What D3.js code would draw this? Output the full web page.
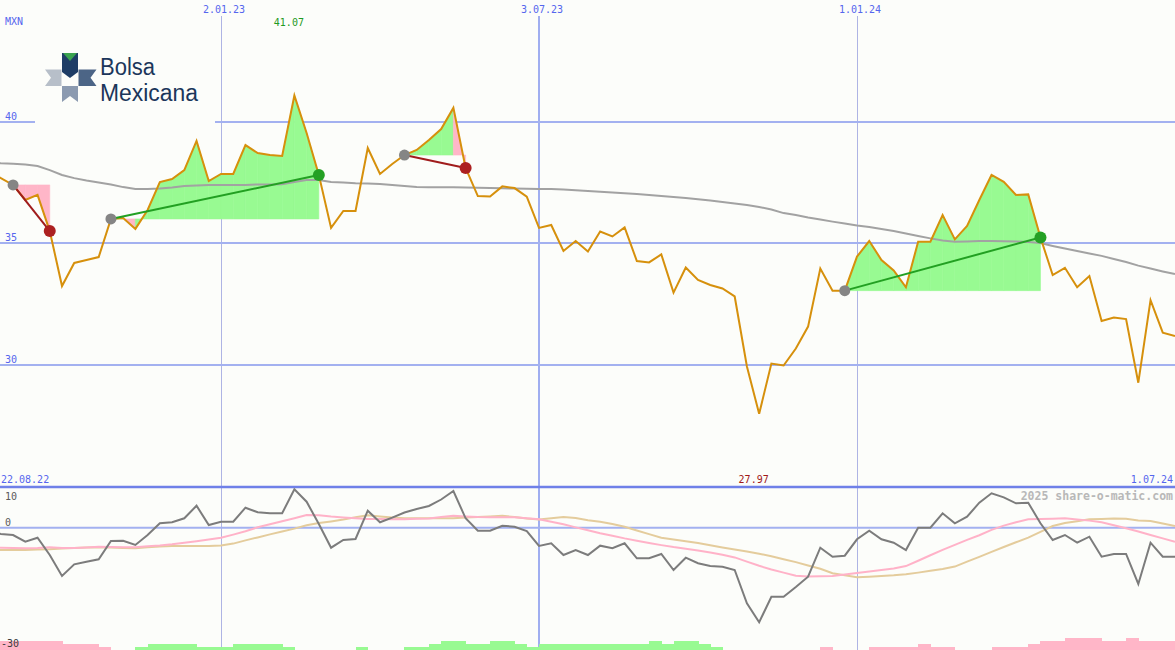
<!DOCTYPE html>
<html><head><meta charset="utf-8">
<script src="https://cdn.jsdelivr.net/npm/d3@7"></script>
<style>html,body{margin:0;padding:0;background:#fcfdfa;}svg{display:block}</style>
</head><body><svg id="c" width="1175" height="650"></svg>
<script>
// ---- data (weekly, from 22.08.22) ----
const startDate = "2022-08-22";
const price = [37.92,37.67,37.39,36.77,36.98,35.49,33.23,34.18,34.30,34.42,
 35.99,36.03,35.58,36.36,37.51,37.63,38.00,39.20,37.55,37.84,
 37.84,39.03,38.70,38.62,38.58,41.07,39.53,37.80,35.62,36.32,
 36.32,38.91,37.84,38.25,38.62,38.83,39.24,39.69,40.56,38.09,
 36.93,36.91,37.33,37.26,36.91,35.62,35.74,34.67,35.08,34.65,
 35.47,35.27,35.64,34.26,34.20,34.53,32.96,33.99,33.48,33.27,
 33.13,32.80,29.92,27.97,30.04,29.96,30.66,31.56,33.95,33.04,
 33.04,34.44,35.08,34.30,33.87,33.18,35.05,35.05,36.15,35.15,
 35.70,36.77,37.80,37.52,36.98,37.00,35.23,33.68,33.98,33.18,
 33.64,31.79,31.93,31.87,29.25,32.65,31.31,31.17];
const movingAvg = [38.33,38.28,38.26,38.23,38.17,38.00,37.80,37.67,37.57,37.49,
 37.41,37.30,37.22,37.22,37.24,37.28,37.35,37.37,37.39,37.39,
 37.39,37.39,37.41,37.41,37.42,37.51,37.59,37.59,37.51,37.49,
 37.46,37.45,37.43,37.39,37.35,37.30,37.29,37.29,37.29,37.28,
 37.27,37.26,37.25,37.24,37.23,37.22,37.22,37.20,37.17,37.14,
 37.11,37.08,37.05,37.02,36.98,36.93,36.89,36.85,36.80,36.75,
 36.69,36.63,36.56,36.48,36.38,36.23,36.15,36.05,35.97,35.88,
 35.80,35.72,35.66,35.58,35.49,35.39,35.29,35.19,35.10,35.05,
 35.06,35.08,35.08,35.07,35.06,35.04,35.00,34.88,34.77,34.67,
 34.57,34.47,34.34,34.22,34.07,33.95,33.83,33.72];
const oscMain = [-1.04,-1.53,-1.78,-3.42,-2.44,-6.69,-11.84,-8.97,-8.33,-7.74,
 -3.25,-3.18,-4.23,-1.78,1.09,1.34,2.32,5.41,0.67,1.48,
 1.48,4.92,3.79,3.55,3.55,9.44,6.39,0.92,-4.90,-3.01,
 -2.76,4.18,1.34,2.47,3.74,4.60,5.34,6.93,9.02,2.32,
 -0.72,-0.72,0.50,0.26,-0.80,-4.48,-3.82,-6.69,-5.46,-6.69,
 -4.40,-5.04,-3.82,-7.50,-7.50,-6.44,-10.37,-7.35,-8.72,-9.39,
 -9.56,-10.37,-18.54,-23.20,-16.92,-16.92,-14.54,-12.01,-4.90,-7.10,
 -6.86,-2.83,-0.72,-2.83,-3.67,-5.46,0.01,0.01,3.55,1.09,
 2.71,6.15,8.45,7.47,6.00,6.15,1.09,-3.01,-1.78,-3.67,
 -2.20,-7.10,-6.44,-6.44,-13.80,-3.67,-7.10,-7.10];
const oscFast = [-4.85,-4.90,-4.97,-5.02,-4.97,-4.80,-4.97,-4.97,-4.82,-4.65,
 -4.72,-4.77,-4.77,-4.55,-4.36,-4.06,-3.67,-3.30,-2.91,-2.47,
 -1.68,-0.85,0.11,0.85,1.58,2.32,3.13,3.08,2.76,2.54,
 2.32,2.15,2.12,2.10,2.10,2.20,2.27,2.64,2.93,2.76,
 2.61,2.56,2.56,2.56,2.34,2.10,1.48,0.85,0.09,-0.63,
 -1.36,-1.95,-2.61,-3.18,-3.72,-4.26,-4.75,-5.17,-5.56,-6.07,
 -6.64,-7.28,-8.31,-9.34,-10.25,-11.01,-11.77,-11.99,-11.91,-11.84,
 -11.47,-11.10,-10.71,-10.37,-9.98,-9.41,-8.09,-6.74,-5.44,-4.21,
 -2.98,-1.83,-0.53,0.53,1.36,2.07,2.15,2.22,2.32,2.05,
 1.75,1.36,0.63,-0.13,-0.90,-1.78,-2.61,-3.42];
const oscSlow = [-5.46,-5.46,-5.46,-5.46,-5.34,-5.26,-5.09,-4.99,-4.87,-4.80,
 -4.87,-4.94,-5.04,-4.80,-4.60,-4.48,-4.48,-4.48,-4.48,-4.38,
 -3.89,-3.10,-2.37,-1.63,-0.92,-0.21,0.60,1.14,1.56,2.02,
 2.59,3.06,2.76,2.49,2.32,2.32,2.32,2.32,2.32,2.49,
 2.64,2.79,2.93,2.61,2.27,2.00,2.32,2.66,2.37,1.85,
 1.48,0.90,0.23,-0.67,-1.56,-2.44,-2.86,-3.30,-3.74,-4.28,
 -4.85,-5.36,-5.85,-6.37,-6.98,-7.72,-8.43,-9.26,-10.07,-11.15,
 -11.67,-12.16,-12.01,-11.84,-11.67,-11.42,-11.01,-10.56,-10.12,-9.53,
 -8.33,-7.13,-5.93,-4.72,-3.55,-2.44,-1.02,0.43,1.14,1.61,
 2.07,2.15,2.25,2.20,1.78,1.66,1.02,0.43];
const signalBars = [-3,-3,-3,-3,-3,-3,-2,-2,-2,-1,0,0,1,2,2,2,2,1,1,1,
 2,2,2,2,1,0,0,0,0,0,1,0,0,0,1,1,2,3,3,2,
 2,3,3,2,1,2,2,2,2,2,2,2,2,2,3,2,3,3,2,1,
 0,0,0,0,0,0,0,0,-1,0,0,0,-1,-1,-1,-1,-2,-1,-1,0,
 0,0,-1,-1,-1,-2,-3,-3,-4,-4,-4,-3,-3,-4,-3,-3,-3];
const tradeEntry = [2,10,34,70];
const tradeExit  = [5,27,39,86];
const xTickDates  = ["2023-01-02","2023-07-03","2024-01-01"];
const xTickLabels = ["2.01.23","3.07.23","1.01.24"];
const priceTicks = [40,35,30];
const oscTicks = [10,0,-30];
const firstLabel = "22.08.22", lastLabel = "1.07.24";
const currency = "MXN";
const logoLines = ["Bolsa","Mexicana"];

// ---- setup ----
const W=1175,H=650, BG="#fcfdfa";
const svg=d3.select("#c");
svg.append("rect").attr("width",W).attr("height",H).attr("fill",BG);
const pd=s=>new Date(s+"T00:00:00Z");
const t0=pd(startDate).getTime();
const dates=price.map((_,i)=>new Date(t0+i*7*864e5));
const x=d3.scaleUtc().domain([pd("2023-01-02"),pd("2024-07-01")]).range([221,1175]);
const y=d3.scaleLinear().domain([40,30]).range([121.5,364.5]);
const yo=d3.scaleLinear().domain([10,-30]).range([487,650]);
const yb=d3.scaleLinear().domain([0,4]).range([0,12]);
const FONT="'DejaVu Sans Mono', monospace";
const GRID="#a3b1f0";

svg.append("clipPath").attr("id","clipTop").append("rect").attr("x",0).attr("y",0).attr("width",W).attr("height",486);
svg.append("clipPath").attr("id","clipBot").append("rect").attr("x",0).attr("y",488).attr("width",W).attr("height",H-488);

// vertical grid
xTickDates.forEach((d,i)=>{
  const xx=Math.round(x(pd(d)));
  const wide=pd(d).getUTCMonth()===6;
  svg.append("line").attr("x1",wide?xx:xx+0.5).attr("x2",wide?xx:xx+0.5).attr("y1",16).attr("y2",H)
    .attr("stroke",wide?"#a0aef0":"#aeb4e4").attr("stroke-width",wide?2:1);
});
// horizontal price grid
priceTicks.forEach(v=>{
  svg.append("line").attr("x1",0).attr("x2",W).attr("y1",y(v)).attr("y2",y(v))
    .attr("stroke",GRID).attr("stroke-width",2).attr("shape-rendering","crispEdges");
});
// logo backdrop
svg.append("rect").attr("x",35).attr("y",40).attr("width",180).attr("height",84).attr("fill",BG);

// bottom panel grid
svg.append("line").attr("x1",0).attr("x2",W).attr("y1",yo(0)).attr("y2",yo(0)).attr("stroke",GRID).attr("stroke-width",2);
svg.append("line").attr("x1",0).attr("x2",W).attr("y1",yo(10)).attr("y2",yo(10)).attr("stroke","#6f80e8").attr("stroke-width",2.5);

// trade fills
const gTop=svg.append("g").attr("clip-path","url(#clipTop)");
tradeEntry.forEach((s,ti)=>{
  const e=price[s], end=tradeExit[ti];
  for(let k=s;k<end;k++){
    const pts=[[x(dates[k]),y(e)],[x(dates[k]),y(price[k])],[x(dates[k+1]),y(price[k+1])],[x(dates[k+1]),y(e)]];
    const col=price[k+1]>=e?"#98fa92":"#ffb6c8";
    gTop.append("path").attr("d","M"+pts.map(p=>p.join(",")).join("L")+"Z")
      .attr("fill",col).attr("stroke",col).attr("stroke-width",0.6);
  }
});
// moving average
gTop.append("path").datum(movingAvg).attr("fill","none").attr("stroke","#a2a2a2").attr("stroke-width",2)
  .attr("d",d3.line().x((d,i)=>x(dates[i])).y(d=>y(d)));
// price line
gTop.append("path").datum(price).attr("fill","none").attr("stroke","#d6900c").attr("stroke-width",2)
  .attr("stroke-linejoin","miter").attr("d",d3.line().x((d,i)=>x(dates[i])).y(d=>y(d)));
// trade lines and dots
tradeEntry.forEach((s,ti)=>{
  const end=tradeExit[ti], win=price[end]>price[s];
  gTop.append("line").attr("x1",x(dates[s])).attr("y1",y(price[s])).attr("x2",x(dates[end])).attr("y2",y(price[end]))
    .attr("stroke",win?"#22a022":"#a01c1c").attr("stroke-width",2);
  gTop.append("circle").attr("cx",x(dates[s])).attr("cy",y(price[s])).attr("r",5.5).attr("fill","#858585");
  gTop.append("circle").attr("cx",x(dates[end])).attr("cy",y(price[end])).attr("r",6).attr("fill",win?"#24a024":"#ac2020");
});

// bottom bars
const gBot=svg.append("g").attr("clip-path","url(#clipBot)");
signalBars.forEach((v,k)=>{
  if(!v) return;
  const x0=x(dates[k]), x1=x(dates[k+1]);
  gBot.append("rect").attr("x",x0).attr("width",x1-x0+0.5).attr("y",H-yb(Math.abs(v))).attr("height",yb(Math.abs(v)))
    .attr("fill",v>0?"#98fa92":"#ffb6c8").attr("shape-rendering","crispEdges");
});
// oscillator lines
const ol=d3.line().x((d,i)=>x(dates[i])).y(d=>yo(d));
gBot.append("path").datum(oscSlow).attr("fill","none").attr("stroke","#e4cc9c").attr("stroke-width",2).attr("d",ol);
gBot.append("path").datum(oscFast).attr("fill","none").attr("stroke","#ffb2c8").attr("stroke-width",2).attr("d",ol);
gBot.append("path").datum(oscMain).attr("fill","none").attr("stroke","#7c7c7c").attr("stroke-width",2).attr("d",ol);

// texts
const txt=(s,xx,yy,col,anchor,size,weight)=>svg.append("text").attr("x",xx).attr("y",yy).text(s)
  .attr("fill",col).attr("font-family",FONT).attr("font-size",size||10).attr("text-anchor",anchor||"start")
  .attr("font-weight",weight||"normal");
const BLUE="#5566ee";
txt(currency,5,25,BLUE);
xTickDates.forEach((d,i)=>txt(xTickLabels[i],x(pd(d))+3,12.5,BLUE,"middle"));
priceTicks.forEach(v=>txt(String(v),5,y(v)-2,BLUE));
const iMax=price.indexOf(d3.max(price)), iMin=price.indexOf(d3.min(price));
txt(d3.max(price).toFixed(2),x(dates[iMax])-5.5,25.5,"#1f9a1f","middle");
txt(d3.min(price).toFixed(2),x(dates[iMin])-5.5,483,"#a01818","middle");
txt(firstLabel,1,483,BLUE);
txt(lastLabel,1173,483,BLUE,"end");
txt("2025 share-o-matic.com",1173,500,"#b8b8b8","end",11.5,"bold");
txt(String(oscTicks[0]),5,499.5,"#5a5a5a");
txt(String(oscTicks[1]),5,525.5,"#5a5a5a");
txt(String(oscTicks[2]),1,646.5,"#3a3a3a");

// logo
const lg=svg.append("g");
lg.append("path").attr("d","M62,53 L78,53 L78,72 L70,78 L62,72 Z").attr("fill","#1e3d66");
lg.append("path").attr("d","M63,53 L77,53 L70,61 Z").attr("fill","#3aa350");
lg.append("path").attr("d","M45,69.5 L61.5,69.5 L61.5,86 L45,86 L51,77.7 Z").attr("fill","#b7bfc9");
lg.append("path").attr("d","M78.5,69.5 L96.5,69.5 L90.5,77.7 L96.5,86 L78.5,86 Z").attr("fill","#4c6586");
lg.append("path").attr("d","M62,86 L78,86 L78,102 L70,96 L62,102 Z").attr("fill","#8b9ab0");
const LOGOF="'Liberation Sans', Arial, sans-serif";
lg.append("text").attr("x",100).attr("y",74.5).text(logoLines[0]).attr("fill","#1b365a").attr("font-family",LOGOF)
  .attr("font-size",23).attr("textLength",55).attr("lengthAdjust","spacingAndGlyphs");
lg.append("text").attr("x",100).attr("y",100.5).text(logoLines[1]).attr("fill","#1b365a").attr("font-family",LOGOF)
  .attr("font-size",23).attr("textLength",98).attr("lengthAdjust","spacingAndGlyphs");
</script></body></html>
